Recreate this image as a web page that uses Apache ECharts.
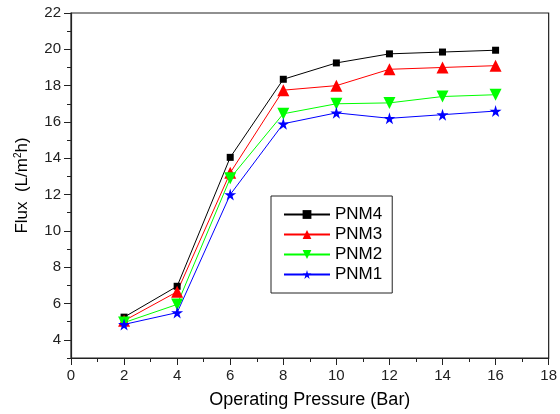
<!DOCTYPE html>
<html>
<head>
<meta charset="utf-8">
<script src="https://cdn.jsdelivr.net/npm/echarts@6/dist/echarts.min.js"></script>
<style>html,body{margin:0;padding:0;background:#fff;}#c{width:560px;height:414px;}</style>
</head>
<body>
<div id="c"></div>
<script>
var pressure = [2, 4, 6, 8, 10, 12, 14, 16];
var pnm4 = [5.25, 6.95, 14.05, 18.35, 19.25, 19.75, 19.85, 19.95];
var pnm3 = [5.05, 6.65, 13.2, 17.75, 18.0, 18.9, 19.0, 19.1];
var pnm2 = [4.95, 5.95, 12.9, 16.45, 17.0, 17.05, 17.4, 17.5];
var pnm1 = [4.85, 5.5, 12.0, 15.9, 16.5, 16.2, 16.4, 16.6];
var yMajor = [4, 6, 8, 10, 12, 14, 16, 18, 20, 22];
var yMinor = [3, 5, 7, 9, 11, 13, 15, 17, 19, 21];

var FONT = '"Liberation Sans", Arial, sans-serif';
var STAR = 'path://M50,0 L61,35 L98,35 L68,57 L79,91 L50,70 L21,91 L32,57 L2,35 L39,35 Z';

function pts(arr) { return pressure.map(function (x, i) { return [x, arr[i]]; }); }

function mk(name, data, color, symbol, size, rot) {
  return {
    name: name, type: 'line', data: pts(data),
    symbol: symbol, symbolSize: size, symbolRotate: rot || 0,
    lineStyle: { color: color, width: 1 },
    itemStyle: { color: color },
    emphasis: { disabled: true },
    z: 2
  };
}

var chart = echarts.init(document.getElementById('c'), null, { renderer: 'canvas' });
chart.setOption({
  animation: false,
  backgroundColor: '#fff',
  textStyle: { fontFamily: FONT },
  grid: { left: 71, right: 8, top: 13, bottom: 56, show: true, borderColor: '#222', borderWidth: 1.2, backgroundColor: 'transparent' },
  legend: {
    orient: 'vertical', left: 271, top: 196,
    borderColor: '#222', borderWidth: 1,
    padding: [10, 10, 10, 12],
    itemGap: 3, itemWidth: 46, itemHeight: 11,
    textStyle: { fontSize: 17, color: '#000', fontFamily: FONT },
    data: ['PNM4', 'PNM3', 'PNM2', 'PNM1']
  },
  xAxis: {
    type: 'value', min: 0, max: 18, interval: 2,
    name: 'Operating Pressure (Bar)', nameLocation: 'middle', nameGap: 33,
    nameTextStyle: { fontSize: 18, color: '#000', fontFamily: FONT },
    axisLine: { lineStyle: { color: '#222', width: 1.2 } },
    axisTick: { length: 7, lineStyle: { color: '#222' } },
    minorTick: { show: true, splitNumber: 2, length: 4, lineStyle: { color: '#222' } },
    axisLabel: { fontSize: 15, color: '#222', margin: 10, fontFamily: FONT },
    splitLine: { show: false }
  },
  yAxis: [{
    type: 'value', min: 3, max: 22,
    name: 'Flux  (L/m{sup|2}h)', nameLocation: 'middle', nameGap: 39, nameRotate: 90,
    nameTextStyle: { fontSize: 17, color: '#000', fontFamily: FONT, rich: { sup: { fontSize: 10, padding: [0, 0, 9, 0], fontFamily: FONT, color: '#000' } } },
    axisLine: { show: true, lineStyle: { color: '#222', width: 1.2 } },
    axisTick: { show: true, length: 7, customValues: yMajor, lineStyle: { color: '#222' } },
    axisLabel: { fontSize: 15, color: '#222', margin: 10, customValues: yMajor, fontFamily: FONT },
    splitLine: { show: false }
  }, {
    type: 'value', min: 3, max: 22, position: 'left',
    axisLine: { show: false },
    axisTick: { show: true, length: 4, customValues: yMinor, lineStyle: { color: '#222' } },
    axisLabel: { show: false },
    splitLine: { show: false }
  }],
  series: [
    mk('PNM4', pnm4, '#000000', 'rect', 7),
    mk('PNM3', pnm3, '#ff0000', 'triangle', 12),
    mk('PNM2', pnm2, '#00ff00', 'triangle', 12, 180),
    mk('PNM1', pnm1, '#0000ff', STAR, 12)
  ]
});
</script>
</body>
</html>
